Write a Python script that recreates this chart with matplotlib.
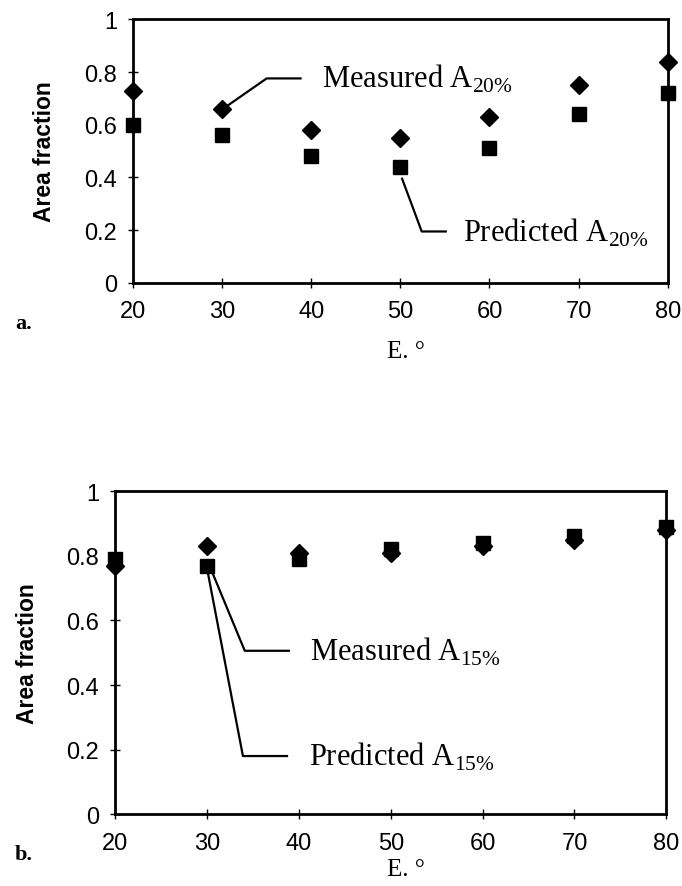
import matplotlib
matplotlib.use("Agg")
import matplotlib.pyplot as plt

# Data
angles = [20, 30, 40, 50, 60, 70, 80]
measured_20 = [0.73, 0.66, 0.58, 0.55, 0.63, 0.75, 0.84]
predicted_20 = [0.60, 0.56, 0.48, 0.44, 0.51, 0.64, 0.72]
measured_15 = [0.77, 0.83, 0.81, 0.81, 0.83, 0.85, 0.88]
predicted_15 = [0.79, 0.77, 0.79, 0.82, 0.84, 0.86, 0.89]
yticks = [0, 0.2, 0.4, 0.6, 0.8, 1]
ytick_labels = ["0", "0.2", "0.4", "0.6", "0.8", "1"]

SANS = "Liberation Sans"
SERIF = "Liberation Serif"

fig = plt.figure(figsize=(6.82, 8.87), dpi=100)
fig.patch.set_facecolor("white")


def panel(rect, meas, pred):
    ax = fig.add_axes(rect)
    ax.plot(angles, pred, ls="none", marker="s", ms=10, color="black", clip_on=False, zorder=3)
    ax.plot(angles, meas, ls="none", marker="D", ms=9, color="black", clip_on=False, zorder=4)
    ax.set_xlim(20, 80)
    ax.set_ylim(0, 1)
    ax.set_xticks(angles)
    ax.set_yticks(yticks)
    ax.set_yticklabels(ytick_labels)
    for s in ax.spines.values():
        s.set_linewidth(2)
    ax.tick_params(direction="inout", length=7, width=1, labelsize=17)
    ax.tick_params(axis="y", pad=8)
    ax.tick_params(axis="x", pad=9)
    for lab in ax.get_xticklabels() + ax.get_yticklabels():
        lab.set_fontfamily(SANS)
    ax.set_ylabel("Area fraction", fontsize=16.5, fontweight="bold", fontfamily=SANS, labelpad=20)
    return ax


# a. panel
ax1 = panel([0.195, 0.680, 0.784, 0.297], measured_20, predicted_20)
ax1.plot([30.5, 35.0, 38.8], [0.67, 0.776, 0.776], color="black", lw=1.6)
ax1.text(41.2, 0.776, r"Measured A$_{\mathregular{20\%}}$", fontsize=22, fontfamily=SERIF, va="center")
ax1.plot([50.2, 52.4, 55.1], [0.395, 0.195, 0.195], color="black", lw=1.6)
ax1.text(57.0, 0.195, r"Predicted A$_{\mathregular{20\%}}$", fontsize=22, fontfamily=SERIF, va="center")
fig.text(0.022, 0.635, "a.", fontsize=16, fontweight="bold", fontfamily=SERIF, va="center")
fig.text(0.595, 0.603, "E. \u00b0", fontsize=18, fontfamily=SERIF, ha="center", va="center")

# b. panel
ax2 = panel([0.169, 0.081, 0.808, 0.364], measured_15, predicted_15)
ax2.plot([30.4, 34.1, 38.9], [0.76, 0.506, 0.506], color="black", lw=1.6)
ax2.text(41.2, 0.506, r"Measured A$_{\mathregular{15\%}}$", fontsize=22, fontfamily=SERIF, va="center")
ax2.plot([30.0, 33.9, 38.7], [0.76, 0.18, 0.18], color="black", lw=1.6)
ax2.text(41.1, 0.18, r"Predicted A$_{\mathregular{15\%}}$", fontsize=22, fontfamily=SERIF, va="center")
fig.text(0.022, 0.036, "b.", fontsize=16, fontweight="bold", fontfamily=SERIF, va="center")
fig.text(0.595, 0.019, "E. \u00b0", fontsize=18, fontfamily=SERIF, ha="center", va="center")

fig.savefig("out.png", dpi=100, facecolor="white")
